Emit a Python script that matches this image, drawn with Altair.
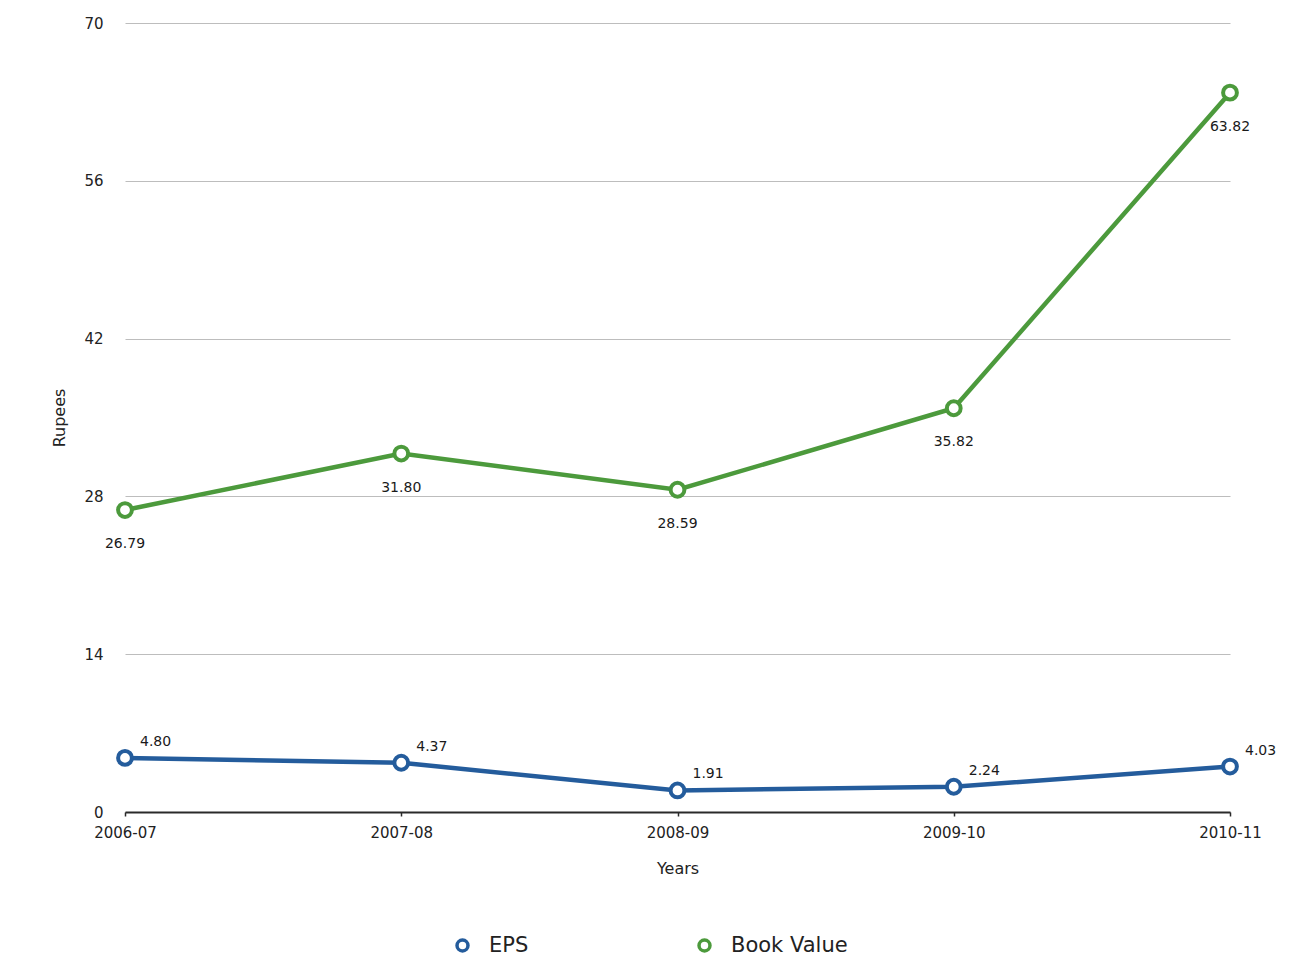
import altair as alt
import pandas as pd

# Financial years on the x axis
years = ["2006-07", "2007-08", "2008-09", "2009-10", "2010-11"]

# Per-share figures in rupees
eps = [4.80, 4.37, 1.91, 2.24, 4.03]
book_value = [26.79, 31.80, 28.59, 35.82, 63.82]

series_names = ["EPS", "Book Value"]
line_colors = ["#245c9c", "#4c9a3c"]
y_ticks = [0, 14, 28, 42, 56, 70]

rows = []
for name, vals in zip(series_names, [eps, book_value]):
    for yr, v in zip(years, vals):
        rows.append({"Year": yr, "Series": name, "Value": v, "Label": f"{v:.2f}"})
df = pd.DataFrame(rows)

FONT = "DejaVu Sans"

x_enc = alt.X(
    "Year:N",
    sort=years,
    scale=alt.Scale(type="point", padding=0),
    axis=alt.Axis(
        title="Years",
        labelAngle=0,
        labelFontSize=15,
        labelColor="#222222",
        labelPadding=9,
        titleFontSize=16,
        titleFontWeight="normal",
        titleColor="#222222",
        titlePadding=20,
        domainColor="#2a2a2a",
        domainWidth=2,
        tickColor="#2a2a2a",
        tickSize=4,
        tickWidth=1.5,
        grid=False,
    ),
)
y_enc = alt.Y(
    "Value:Q",
    scale=alt.Scale(domain=[0, 70], nice=False, zero=True),
    axis=alt.Axis(
        title="Rupees",
        values=y_ticks,
        labelFontSize=15,
        labelColor="#222222",
        labelPadding=22,
        titleFontSize=16,
        titleFontWeight="normal",
        titleColor="#222222",
        titlePadding=16,
        domain=False,
        ticks=False,
        grid=True,
        gridColor="#bdbdbd",
        gridWidth=1,
    ),
)
color_enc = alt.Color(
    "Series:N",
    sort=series_names,
    scale=alt.Scale(domain=series_names, range=line_colors),
    legend=alt.Legend(
        title=None,
        orient="none",
        direction="horizontal",
        legendX=327,
        legendY=912,
        symbolType="circle",
        symbolSize=120,
        symbolStrokeWidth=3.5,
        symbolFillColor="white",
        labelFontSize=21,
        labelColor="#222222",
        labelOffset=16,
        columnPadding=163,
    ),
)

base = alt.Chart(df).encode(x=x_enc, y=y_enc, color=color_enc)

lines = base.mark_line(strokeWidth=4.5)

points = base.mark_point(
    filled=False, fill="white", fillOpacity=1, size=190, strokeWidth=4
)

eps_labels = (
    alt.Chart(df)
    .transform_filter(alt.datum.Series == "EPS")
    .mark_text(align="left", baseline="bottom", dx=15, dy=-9, fontSize=14, color="#1a1a1a", font=FONT)
    .encode(x=x_enc, y=y_enc, text="Label:N")
)

bv_labels = (
    alt.Chart(df)
    .transform_filter(alt.datum.Series == "Book Value")
    .mark_text(align="center", baseline="middle", dy=34, fontSize=14, color="#1a1a1a", font=FONT)
    .encode(x=x_enc, y=y_enc, text="Label:N")
)

chart = (
    alt.layer(lines, points, eps_labels, bv_labels)
    .properties(
        width=1105,
        height=789,
        padding={"left": 125, "top": 23, "right": 65, "bottom": 150},
        autosize=alt.AutoSizeParams(type="none"),
        background="white",
    )
    .configure(font=FONT)
    .configure_view(strokeWidth=0, stroke="transparent")
)

chart.save("out.html", embed_options={"renderer": "svg", "actions": False})
